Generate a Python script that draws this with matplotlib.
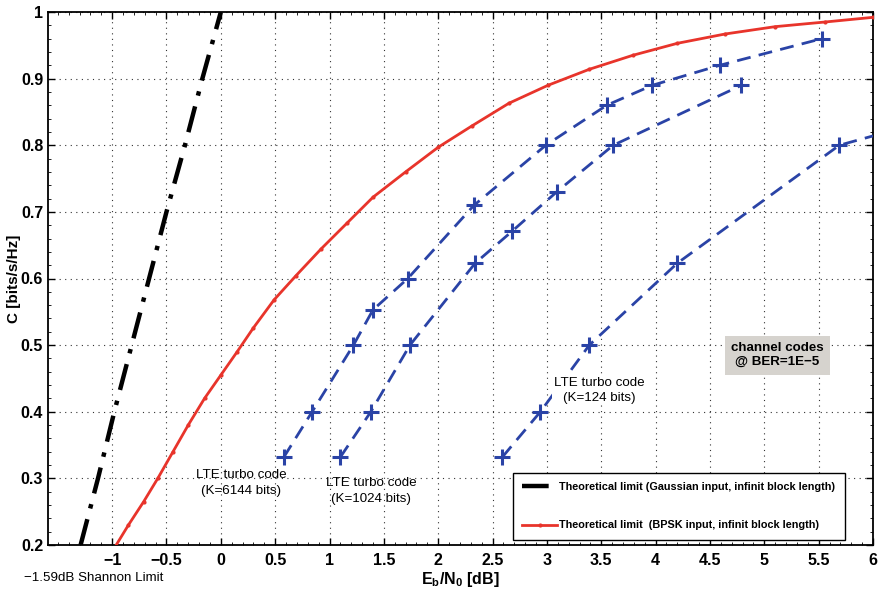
import matplotlib
matplotlib.use("Agg")
import matplotlib.pyplot as plt
from matplotlib.ticker import AutoMinorLocator

# ---------------- data ----------------
gauss_ebn0 = [-1.29, -1.13, -0.98, -0.82, -0.66, -0.50, -0.33, -0.17, 0.0]
gauss_c    = [0.2, 0.3, 0.4, 0.5, 0.6, 0.7, 0.8, 0.9, 1.0]

bpsk_ebn0 = [-1.00, -0.85, -0.71, -0.58, -0.44, -0.30, -0.15, 0.00, 0.15, 0.30,
             0.49, 0.69, 0.92, 1.16, 1.40, 1.70, 2.00, 2.31, 2.65, 3.01,
             3.39, 3.79, 4.20, 4.64, 5.10, 5.56, 6.00]
bpsk_c    = [0.19, 0.23, 0.265, 0.30, 0.34, 0.38, 0.42, 0.455, 0.49, 0.526,
             0.568, 0.604, 0.644, 0.683, 0.722, 0.760, 0.797, 0.829, 0.863, 0.890,
             0.914, 0.935, 0.953, 0.967, 0.978, 0.985, 0.992]

k6144_ebn0 = [0.58, 0.84, 1.22, 1.40, 1.72, 2.33, 2.99, 3.55, 3.97, 4.59, 5.53]
k6144_c    = [0.332, 0.40, 0.50, 0.553, 0.60, 0.71, 0.80, 0.86, 0.89, 0.92, 0.96]

k1024_ebn0 = [1.10, 1.38, 1.74, 2.34, 2.68, 3.09, 3.61, 4.79]
k1024_c    = [0.332, 0.40, 0.50, 0.623, 0.671, 0.73, 0.80, 0.89]

k124_ebn0 = [2.59, 2.94, 3.39, 4.20, 5.69, 6.00]
k124_c    = [0.332, 0.40, 0.50, 0.623, 0.80, 0.814]

xticks = [-1, -0.5, 0, 0.5, 1, 1.5, 2, 2.5, 3, 3.5, 4, 4.5, 5, 5.5, 6]
xticklabels = ["\u22121", "\u22120.5", "0", "0.5", "1", "1.5", "2", "2.5", "3",
               "3.5", "4", "4.5", "5", "5.5", "6"]
yticks = [0.2, 0.3, 0.4, 0.5, 0.6, 0.7, 0.8, 0.9, 1.0]
yticklabels = ["0.2", "0.3", "0.4", "0.5", "0.6", "0.7", "0.8", "0.9", "1"]

legend_labels = ["Theoretical limit (Gaussian input, infinit block length)",
                 "Theoretical limit  (BPSK input, infinit block length)"]

# ---------------- style ----------------
FONT = ["Liberation Sans", "DejaVu Sans"]
plt.rcParams['font.family'] = FONT
BLUE = "#2a43a6"
RED = "#e8342b"

fig = plt.figure(figsize=(8.79, 5.96), dpi=100)
ax = fig.add_axes([48/879, 1-545/596, (873-48)/879, (545-12)/596])

gl, = ax.plot(gauss_ebn0, gauss_c, color="black", lw=3.2,
              dashes=(6, 2.5, 1, 2.5), zorder=4)
bl, = ax.plot(bpsk_ebn0, bpsk_c, color=RED, lw=2.0, marker='.', ms=4, zorder=4)

for xs, ys in [(k6144_ebn0, k6144_c), (k1024_ebn0, k1024_c)]:
    ax.plot(xs, ys, color=BLUE, lw=2.0, ls=(0, (5, 3)), marker='+', ms=11,
            mew=2.2, zorder=3)
ax.plot(k124_ebn0, k124_c, color=BLUE, lw=2.0, ls=(0, (5, 3)), marker='+', ms=11,
        mew=2.2, markevery=list(range(len(k124_ebn0) - 1)), zorder=3)

ax.set_xlim(-1.59, 6)
ax.set_ylim(0.2, 1.0)
ax.set_xticks(xticks)
ax.set_xticklabels(xticklabels)
ax.set_yticks(yticks)
ax.set_yticklabels(yticklabels)
ax.xaxis.set_minor_locator(AutoMinorLocator(5))
ax.yaxis.set_minor_locator(AutoMinorLocator(5))
ax.tick_params(which='major', direction='in', length=5, width=1.0,
               top=True, right=True, labelsize=11.5)
ax.tick_params(axis='x', which='major', pad=6)
ax.tick_params(which='minor', direction='in', length=2, width=0.6,
               top=True, right=True)
for lab in ax.get_xticklabels() + ax.get_yticklabels():
    lab.set_fontweight('bold')
for s in ax.spines.values():
    s.set_linewidth(1.3)

ax.grid(True, which='major', ls=(0, (1, 4)), color='#333333', lw=0.8)

ax.set_ylabel("C [bits/s/Hz]", fontsize=11, fontweight='bold')
ax.yaxis.set_label_coords((21 - 48) / 825, 0.5)
ax.set_xlabel(r"E$_\mathregular{b}$/N$_\mathregular{0}$ [dB]", fontsize=11.5,
              fontweight='bold', labelpad=1)

ax.text(0.19, 0.293, "LTE turbo code\n(K=6144 bits)", ha='center', va='center',
        fontsize=9.6, linespacing=1.5, zorder=5)
ax.text(1.385, 0.281, "LTE turbo code\n(K=1024 bits)", ha='center', va='center',
        fontsize=9.6, linespacing=1.5, zorder=5)
ax.text(3.48, 0.432, "LTE turbo code\n(K=124 bits)", ha='center', va='center',
        fontsize=9.6, linespacing=1.3, zorder=5,
        bbox=dict(facecolor='white', edgecolor='none', pad=1))
ax.text(5.12, 0.485, "channel codes\n@ BER=1E\u22125", ha='center', va='center',
        fontsize=9.6, fontweight='bold', linespacing=1.25, zorder=5,
        bbox=dict(facecolor='#d6d3ce', edgecolor='none', pad=4.5))

fig.text(24/879, 1-578/596, "\u22121.59dB Shannon Limit", ha='left', va='center',
         fontsize=9.6)

leg = ax.legend([gl, bl], legend_labels, loc='lower right',
                bbox_to_anchor=(0.966, 0.009), frameon=True, fancybox=False,
                edgecolor='black', framealpha=1, borderpad=0.9, labelspacing=2.6,
                handlelength=3.2, handletextpad=0.2, borderaxespad=0,
                prop={'family': FONT, 'weight': 'bold', 'size': 7.8})
leg.get_frame().set_linewidth(1.0)
leg.set_zorder(6)

fig.savefig("out.png", dpi=100)
